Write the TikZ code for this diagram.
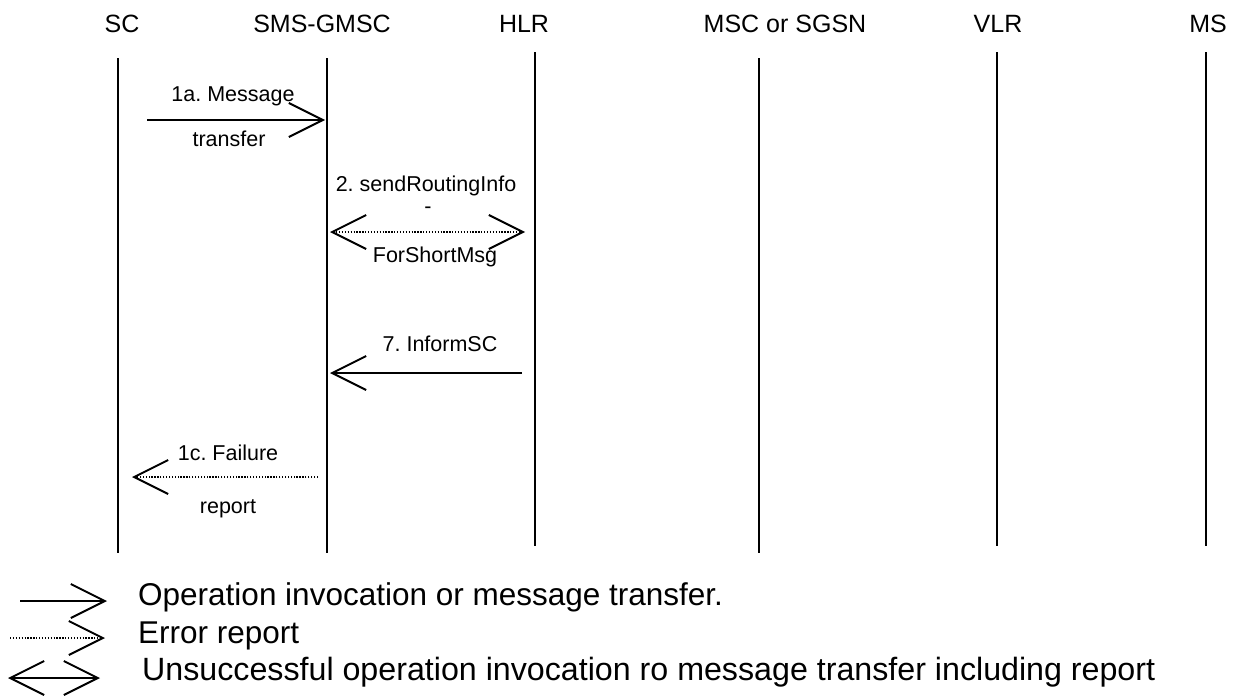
\documentclass[tikz,border=0pt]{standalone}
\usepackage{fontspec}
\setmainfont{Liberation Sans}
\usetikzlibrary{arrows.meta}
\frenchspacing

\begin{document}
\begin{tikzpicture}[x=1pt,y=-1pt]
    \tikzset{lifeline/.style = {line width=2pt},
        invoke/.style   = {line width=2pt,
            -{Straight Barb[length=34pt,width=34pt,line width=2pt]}},
        errrep/.style   = {line width=1.3pt, dash pattern=on 1.3pt off 1.6pt,
            -{Straight Barb[length=34pt,width=34pt,line width=2pt]}},
        both/.style     = {{Straight Barb[length=34pt,width=34pt,line width=2pt]}-{Straight Barb[length=34pt,width=34pt,line width=2pt]}},
        entity/.style   = {anchor=base, inner sep=0pt, font=\fontsize{25}{28}\selectfont},
        msg/.style      = {anchor=base, inner sep=0pt, font=\fontsize{21.5}{24}\selectfont},
        legend/.style   = {anchor=base west, inner sep=0pt, font=\fontsize{31.5}{34}\selectfont}}
    \useasboundingbox (0,0) rectangle (1233,696);

    \def\Top{58};
    \def\Bot{553};

    % Draw the entities and their lifelines.
    \node[entity] (sc)   at (122,32)  {SC};
    \node[entity] (gmsc) at (322,32)  {SMS-GMSC};
    \node[entity] (hlr)  at (524,32)  {HLR};
    \node[entity] (msc)  at (785,32)  {MSC or SGSN};
    \node[entity] (vlr)  at (998,32)  {VLR};
    \node[entity] (ms)   at (1208,32) {MS};

    \draw[lifeline] (118,\Top) coordinate (sc-t)   -- (118,\Bot) coordinate (sc-b);
    \draw[lifeline] (327,\Top) coordinate (gmsc-t) -- (327,\Bot) coordinate (gmsc-b);
    \draw[lifeline] (535,52)   coordinate (hlr-t)  -- (535,546)  coordinate (hlr-b);
    \draw[lifeline] (759,\Top) coordinate (msc-t)  -- (759,\Bot) coordinate (msc-b);
    \draw[lifeline] (997,52)   coordinate (vlr-t)  -- (997,546)  coordinate (vlr-b);
    \draw[lifeline] (1206,52)  coordinate (ms-t)   -- (1206,546) coordinate (ms-b);

    % Draw the messages.
    \coordinate (m1a-s) at (147,120);
    \coordinate (m1a-e) at (325,120);
    \draw[invoke] (m1a-s) -- (m1a-e);
    \node[msg] (m1a-up) at (233,101) {1a. Message};
    \node[msg] (m1a-dn) at (229,146) {transfer};

    \coordinate (m2-s) at (330,232);
    \coordinate (m2-e) at (525,232);
    \draw[errrep,both] (m2-s) -- (m2-e);
    \node[msg] (m2-up)  at (426,191) {2. sendRoutingInfo};
    \node[msg] (m2-mid) at (428,213) {-};
    \node[msg] (m2-dn)  at (435,262) {ForShortMsg};

    \coordinate (m7-s) at (522,373);
    \coordinate (m7-e) at (330,373);
    \draw[invoke] (m7-s) -- (m7-e);
    \node[msg] (m7-up) at (440,351) {7. InformSC};

    \coordinate (m1c-s) at (318,477);
    \coordinate (m1c-e) at (132,477);
    \draw[errrep] (m1c-s) -- (m1c-e);
    \node[msg] (m1c-up) at (228,460) {1c. Failure};
    \node[msg] (m1c-dn) at (228,513) {report};

    % Draw the legend.
    \coordinate (lg1-s) at (20,601);
    \coordinate (lg1-e) at (107,601);
    \draw[invoke] (lg1-s) -- (lg1-e);
    \node[legend] (lg1) at (138,605) {Operation invocation or message transfer.};

    \coordinate (lg2-s) at (10,638);
    \coordinate (lg2-e) at (105,638);
    \draw[errrep] (lg2-s) -- (lg2-e);
    \node[legend] (lg2) at (138,643) {Error report};

    \coordinate (lg3-s) at (8,678);
    \coordinate (lg3-e) at (100,678);
    \draw[line width=2pt,both] (lg3-s) -- (lg3-e);
    \node[legend,font=\fontsize{32.2}{34}\selectfont] (lg3) at (142,680) {Unsuccessful operation invocation ro message transfer including report};
\end{tikzpicture}
\end{document}
